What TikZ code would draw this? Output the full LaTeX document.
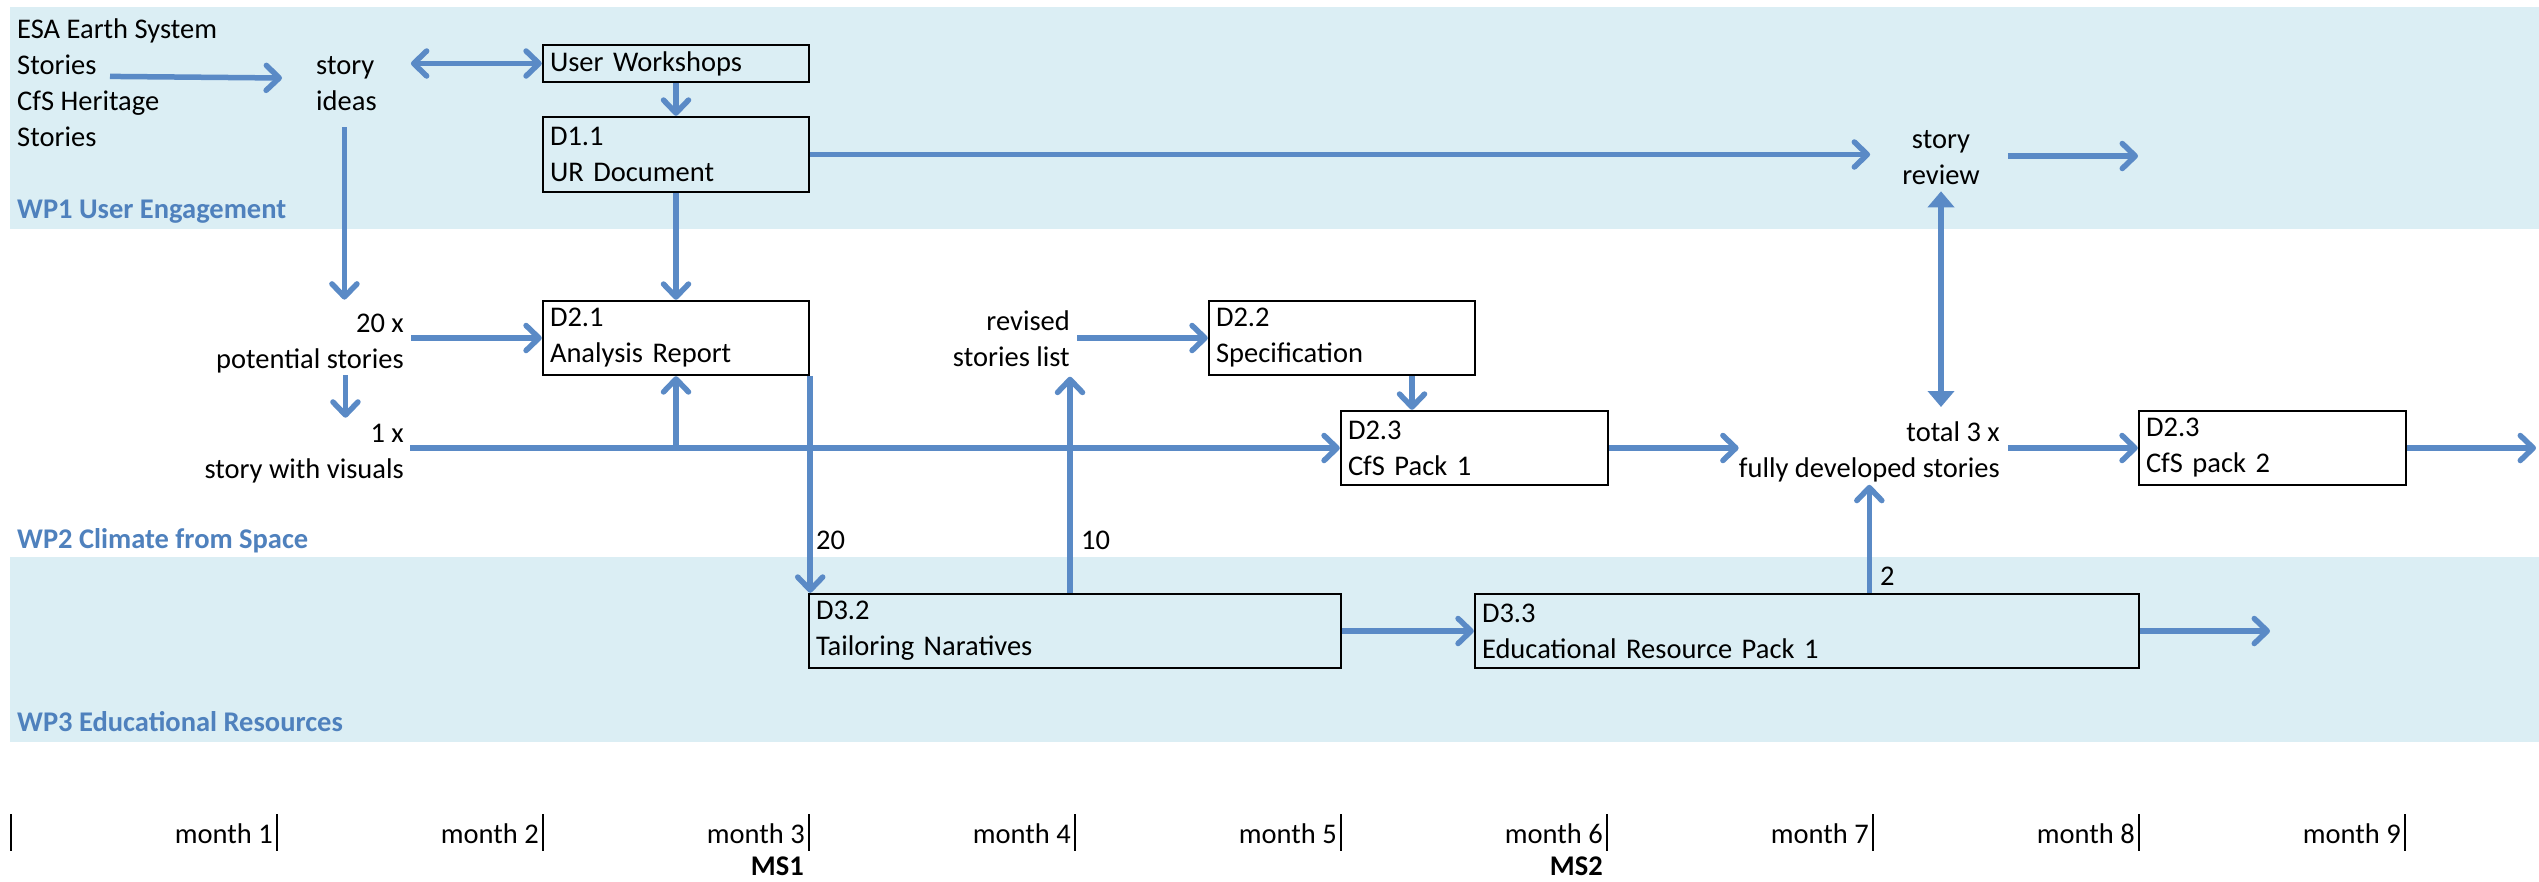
\documentclass[tikz,border=0pt]{standalone}
\usepackage{fontspec}
\setmainfont{Carlito}
\usetikzlibrary{arrows.meta,calc}
\definecolor{bandblue}{HTML}{DBEEF4}
\definecolor{arrowblue}{HTML}{5A8AC6}
\definecolor{wpblue}{HTML}{4F81BD}
\newcommand\chartfont{\fontsize{28.5}{36}\selectfont}
\begin{document}
\begin{tikzpicture}[x=1pt,y=-1pt,
  every node/.style={font=\chartfont, inner sep=0pt},
  box/.style={draw=black, line width=2.4pt, inner xsep=7pt, inner ysep=0pt, align=left},
  wplabel/.style={anchor=west, text=wpblue, font=\chartfont\bfseries},
  barb/.tip={Straight Barb[length=13pt,width=25pt,round]},
  tri/.tip={Triangle[length=16pt,width=26pt]},
  arr/.style={draw=arrowblue, line width=5.5pt, -barb},
  dblarr/.style={draw=arrowblue, line width=5.5pt, barb-barb},
  triarr/.style={draw=arrowblue, line width=5.5pt, tri-tri},
  tick/.style={draw=black, line width=1.6pt},
  month/.style={anchor=east},
  milestone/.style={anchor=east, font=\chartfont\bfseries}]
\useasboundingbox (0,0) rectangle (2539,881);

% work-package bands
\fill[bandblue] (10,7) rectangle (2539,229);
\fill[bandblue] (10,557) rectangle (2539,742);
\node[wplabel] (wp1) at (17,212) {WP1 User Engagement};
\node[wplabel] (wp2) at (17,541) {WP2 Climate from Space};
\node[wplabel] (wp3) at (17,722) {WP3 Educational Resources};

% free-standing texts
\node[anchor=west, align=left] (src) at (17,82.4) {ESA Earth System\\Stories\\CfS Heritage\\Stories};
\node[anchor=west, align=left] (ideas) at (316,84) {story\\ideas};
\node[anchor=east, align=right] (pot) at (404,343.4) {20 x\\potential stories};
\node[anchor=east, align=right] (onex) at (404,453.4) {1 x\\story with visuals};
\node[anchor=east, align=right] (rev) at (1070,338.5) {revised\\stories list};
\node[anchor=east, align=right] (total) at (2000,451.4) {total 3 x\\fully developed stories};
\node[align=center] (review) at (1941,158) {story\\review};

% deliverable boxes
\node[box, text width=252pt, minimum height=37pt] (uw) at (676,63.5) {User Workshops};
\node[box, text width=252pt, minimum height=75pt] (d11) at (676,154.5) {D1.1\\UR Document};
\node[box, text width=252pt, minimum height=74pt] (d21) at (676,338) {D2.1\\Analysis Report};
\node[box, text width=252pt, minimum height=74pt] (d22) at (1342,338) {D2.2\\Specification};
\node[box, text width=253pt, minimum height=74pt] (d23a) at (1474.5,448) {D2.3\\CfS Pack 1};
\node[box, text width=253pt, minimum height=74pt] (d23b) at (2272.5,448) {D2.3\\CfS pack 2};
\node[box, text width=518pt, minimum height=74pt] (d32) at (1075,631) {D3.2\\Tailoring Naratives};
\node[box, text width=650pt, minimum height=74pt] (d33) at (1807,631) {D3.3\\Educational Resource Pack 1};

% flow-count labels
\node[anchor=west] (n20) at (816,540) {20};
\node[anchor=west] (n10) at (1081,540) {10};
\node[anchor=west] (n2) at (1880,576) {2};

% open ends on the right
\coordinate (out1) at (2138,156);
\coordinate (out2) at (2270,631);
\coordinate (out3) at (2536,448);
\coordinate (specdrop) at ($(d22.south)+(70,0)$);

% connectors, WP1
\draw[arr] ($(src.west)+(93,-6)$) -- ($(ideas.west)+(-34,-6)$);
\draw[dblarr] ([xshift=34pt]ideas.east |- uw.west) -- (uw.west);
\draw[arr] (uw.south) -- (d11.north);
\draw[arr] (d11.east) -- ([xshift=-32pt]review.west |- d11.east);
\draw[arr] ([xshift=28pt]review.east |- out1) -- (out1);

% connectors, WP2
\draw[arr] ($(ideas.south)+(-2,16)$) -- ($(ideas.south |- pot.north)+(-2,-14)$);
\draw[arr] ([xshift=7pt]pot.east |- d21.west) -- (d21.west);
\draw[arr] ($(ideas.south |- pot.south)+(-1,2)$) -- ($(ideas.south |- onex.north)+(-1,-6)$);
\draw[arr] ([xshift=6pt]onex.east |- d23a.west) -- (d23a.west);
\draw[arr] (d21.south |- d23a.west) -- (d21.south);
\draw[arr] (d11.south) -- (d21.north);
\draw[arr] ([xshift=7pt]rev.east |- d22.west) -- (d22.west);
\draw[arr] (specdrop) -- (specdrop |- d23a.north);
\draw[arr] (d23a.east) -- (total.west |- d23a.east);
\draw[arr] ([xshift=8pt]total.east |- d23b.west) -- (d23b.west);
\draw[arr] (d23b.east) -- (out3);
\draw[triarr] ($(review.south)+(0,6)$) -- ($(review.south |- total.north)+(0,-14)$);

% connectors, WP3
\draw[arr] (d21.south east) -- (d21.south east |- d32.north);
\draw[arr] (d32.north -| rev.east) -- ($(rev.south east)+(0,10)$);
\draw[arr] (d32.east) -- (d33.west);
\draw[arr] (d33.east) -- (out2);
\draw[arr] (d33.north -| total.south) -- ($(total.south)+(0,3)$);

% time axis
\foreach \k in {0,...,9} {
  \draw[tick] ({11+266*\k},814) -- ({11+266*\k},851);
}
\foreach \k in {1,...,9} {
  \node[month] (m\k) at ({11+266*\k-4},834) {month \k};
}
\node[milestone] (ms1) at (804,866) {MS1};
\node[milestone] (ms2) at (1603,866) {MS2};
\end{tikzpicture}
\end{document}
